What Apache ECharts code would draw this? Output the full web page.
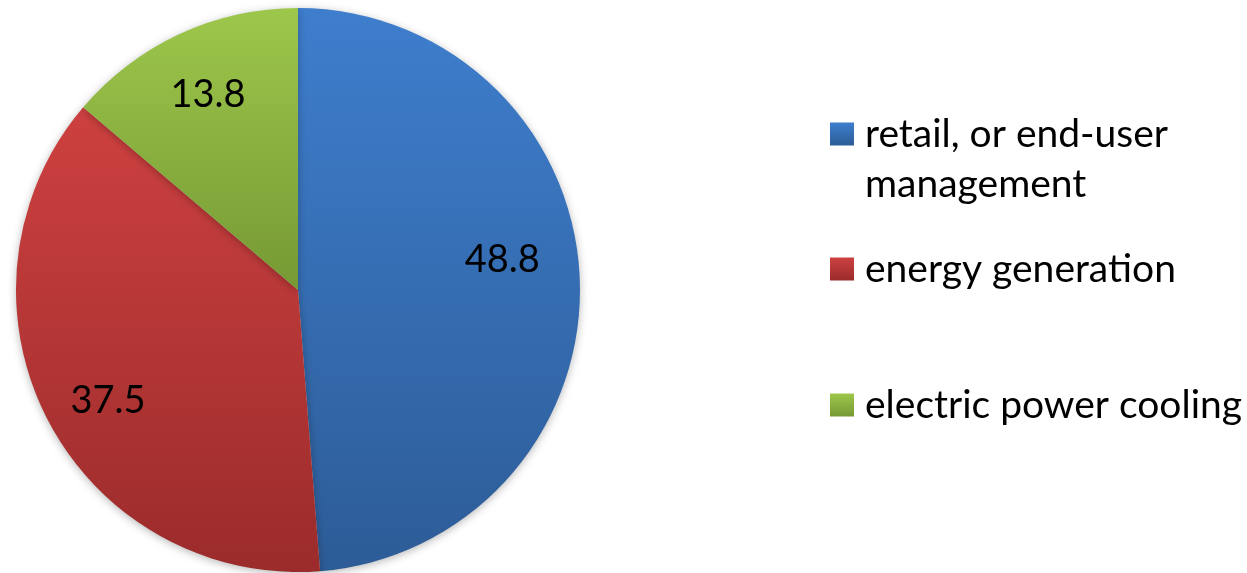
<!DOCTYPE html>
<html>
<head>
<meta charset="utf-8">
<script src="https://cdn.jsdelivr.net/npm/echarts@6/dist/echarts.min.js"></script>
<style>
  html, body { margin: 0; padding: 0; background: #ffffff; }
  #chart { width: 1247px; height: 573px; }
</style>
</head>
<body>
<div id="chart"></div>
<script>
const categories = ['retail, or end-user management', 'energy generation', 'electric power cooling'];
const values = [48.8, 37.5, 13.8];
const colorsTop = ['#3e7ecd', '#cd4140', '#9dc74b'];
const colorsBottom = ['#2d5c97', '#9b2b2b', '#769934'];

function grad(i) {
  return new echarts.graphic.LinearGradient(0, 0, 0, 1, [
    { offset: 0, color: colorsTop[i] },
    { offset: 1, color: colorsBottom[i] }
  ]);
}

const pieData = categories.map((c, i) => ({
  name: c, value: values[i],
  itemStyle: { color: grad(i) }
}));
const labelData = categories.map((c, i) => ({ name: c, value: values[i] }));

const FONT = 'Lato';
const CX = 298, CY = 290, R = 282;
const legendTops = [59, 244, 380];

const chart = echarts.init(document.getElementById('chart'), null, { renderer: 'canvas' });
chart.setOption({
  animation: false,
  backgroundColor: '#ffffff',
  legend: categories.map((c, i) => ({
    data: [c],
    orient: 'vertical',
    left: 830,
    top: legendTops[i],
    padding: 0,
    itemWidth: 24,
    itemHeight: 23,
    icon: 'rect',
    selectedMode: false,
    formatter: function (name) { return name.length > 24 ? '\n' + name : name; },
    textStyle: {
      fontFamily: FONT,
      fontSize: 39,
      color: '#000000',
      lineHeight: 50,
      width: 400,
      overflow: 'break',
      padding: [0, 0, 0, 6]
    }
  })),
  series: [
    {
      type: 'pie',
      center: [CX, CY],
      radius: [0, R],
      startAngle: 90,
      clockwise: true,
      silent: true,
      label: { show: false },
      labelLine: { show: false },
      itemStyle: {
        borderWidth: 0,
        shadowBlur: 8,
        shadowColor: 'rgba(0,0,0,0.28)',
        shadowOffsetY: 2
      },
      data: pieData
    },
    {
      type: 'pie',
      center: [CX, CY],
      radius: [R / 2, R],
      startAngle: 90,
      clockwise: true,
      silent: true,
      itemStyle: { color: 'rgba(0,0,0,0)' },
      labelLine: { show: false },
      label: {
        show: true,
        position: 'inside',
        formatter: function (p) { return p.value.toFixed(1); },
        fontFamily: FONT,
        fontSize: 38,
        color: '#000000'
      },
      labelLayout: function (p) {
        const adj = [[-10, -22], [1, 13], [0, -1]];
        return { dx: adj[p.dataIndex][0], dy: adj[p.dataIndex][1] };
      },
      data: labelData
    }
  ]
});
</script>
</body>
</html>
